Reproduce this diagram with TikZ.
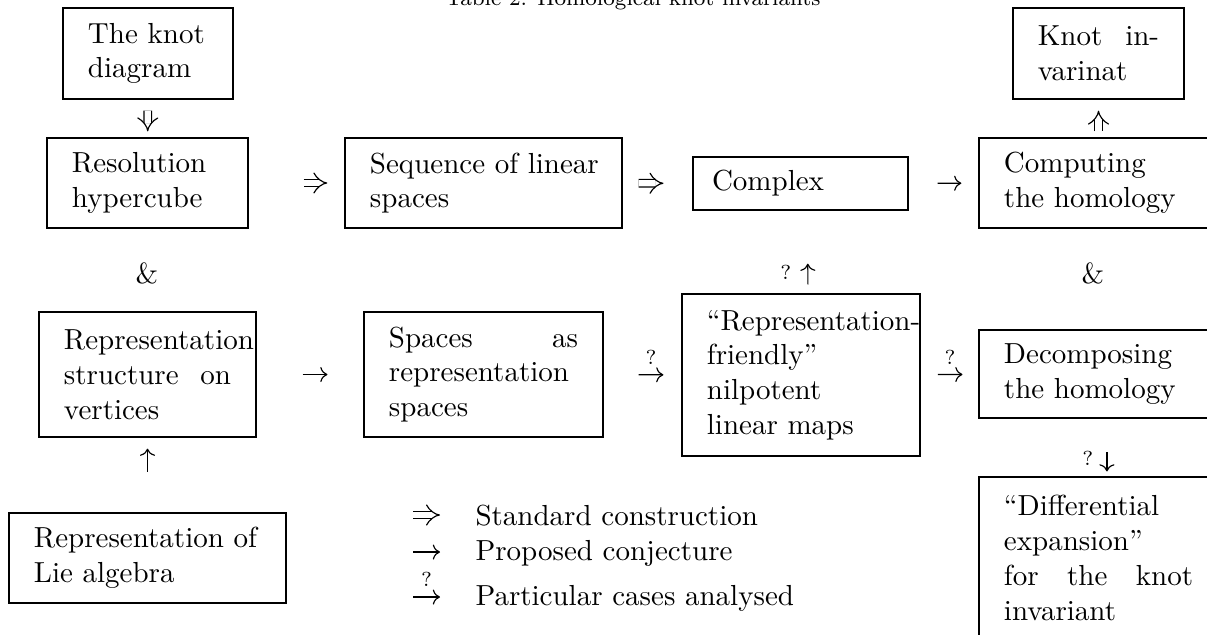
\documentclass[tikz,border=0pt]{standalone}
\usetikzlibrary{arrows.meta}
\begin{document}
\begin{tikzpicture}[x=0.3448pt, y=-0.3448pt,
		box/.style = {draw, line width = 0.4pt, inner xsep = 8.6pt, inner ysep = 0pt, align = left},
		std/.style = {double, double distance = 2.2pt, line width = 0.4pt, -{Implies[scale = 1.15]}},
		conj/.style = {line width = 0.4pt, -{Computer Modern Rightarrow}},
		qmark/.style = {font = \scriptsize}]
	\useasboundingbox (0,0) rectangle (1207,634);
	\clip (0,0) rectangle (1207,634);
	\node[anchor = base, font = \fontsize{7.5pt}{9pt}\selectfont] (title) at (633,5) {Table 2: Homological knot invariants};

	\node[box, text width = 41.4pt, minimum height = 31.4pt] (knot) at (148,53.5) {The knot\\diagram};
	\node[box, text width = 41.8pt, minimum height = 31.4pt] (kinv) at (1098.5,53.5) {Knot\hfill in-\\varinat};
	\node[box, text width = 52.1pt, minimum height = 31pt] (res) at (147.5,183) {Resolution\\hypercube};
	\node[box, text width = 78.3pt, minimum height = 31pt] (seq) at (483.5,183) {\mbox{Sequence of linear}\\spaces};
	\node[box, text width = 61pt, inner xsep = 6.55pt, minimum height = 18.3pt] (cplx) at (800.5,183.5) {Complex};
	\node[box, text width = 65.2pt, minimum height = 31pt] (comp) at (1098.5,183) {Computing\\the homology};
	\node (amp1) at (147,273) {\&};
	\node (amp2) at (1093,273) {\&};
	\node[box, text width = 57.6pt, minimum height = 43.1pt] (rstr) at (147.5,374.5) {\mbox{Representation}\\structure\hfill on\\vertices};
	\node[box, text width = 65.2pt, minimum height = 43.1pt] (spc) at (483.5,374.5) {Spaces\hfill as\\representation\\spaces};
	\node[box, text width = 64.9pt, minimum height = 55.9pt] (rfr) at (801,375) {\mbox{``Representation-}\\friendly''\\nilpotent\\linear maps};
	\node[box, text width = 65.2pt, minimum height = 30.3pt] (dec) at (1098.5,374) {Decomposing\\the homology};
	\node[box, text width = 65.2pt, minimum height = 55.9pt] (diff) at (1098.5,558) {``Differential\\expansion''\\for\hfill the\hfill knot\\invariant};
	\node[box, text width = 78.3pt, minimum height = 31pt] (lie) at (147.5,558) {Representation of\\Lie algebra};

	\draw[std, shorten <= 3.8pt, shorten >= 2.1pt] (knot) -- (res);
	\draw[std, shorten <= 19pt, shorten >= 5.9pt] (res) -- (seq);
	\draw[std, shorten <= 5.5pt, shorten >= 10pt] (seq) -- (cplx);
	\draw[conj, shorten <= 10pt, shorten >= 5.9pt] (cplx) -- (comp);
	\draw[std, shorten <= 2.1pt, shorten >= 3.8pt] (comp) -- (kinv);
	\draw[conj, shorten <= 3.1pt, shorten >= 18.3pt] ([xshift = 2.4pt]rfr.north) -- ([xshift = 2.4pt]cplx.south)
		node[pos = 0.26, left = 2.2pt, qmark] (q1) {?};
	\draw[conj, shorten <= 11.7pt, shorten >= 1.7pt] ([xshift = 2.9pt]dec.south) -- ([xshift = 2.9pt]diff.north)
		node[pos = 0.68, left = 1.2pt, qmark] (q2) {?};
	\draw[conj, shorten <= 15.9pt, shorten >= 12.4pt] (rstr) -- (spc);
	\draw[conj, shorten <= 12.1pt, shorten >= 6.2pt] (spc) -- (rfr) node[pos = 0.61, above, qmark] (q3) {?};
	\draw[conj, shorten <= 5.9pt, shorten >= 5.5pt] (rfr) -- (dec) node[pos = 0.51, above, qmark] (q4) {?};
	\draw[conj, shorten <= 14.1pt, shorten >= 3.8pt] (lie) -- (rstr);

	\coordinate (la1) at (413,515);
	\coordinate (lb1) at (440,515);
	\coordinate (la2) at (413,552);
	\coordinate (lb2) at (440,552);
	\coordinate (la3) at (413,597);
	\coordinate (lb3) at (440,597);
	\draw[std] (la1) -- (lb1);
	\draw[conj] (la2) -- (lb2);
	\draw[conj] (la3) -- (lb3) node[midway, above, qmark] (q5) {?};
	\node[anchor = base west, inner sep = 0pt] (lt1) at (475,525) {Standard construction};
	\node[anchor = base west, inner sep = 0pt] (lt2) at (475,560) {Proposed conjecture};
	\node[anchor = base west, inner sep = 0pt] (lt3) at (475,605) {Particular cases analysed};
\end{tikzpicture}
\end{document}
